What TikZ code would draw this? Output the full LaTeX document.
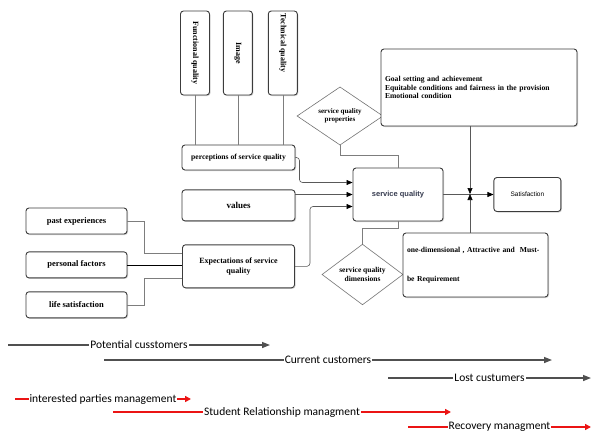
\documentclass[tikz,border=0pt]{standalone}
\usepackage{fontspec}
\setmainfont{Liberation Serif}
\newfontfamily\calfont{Carlito}
\newfontfamily\arialfont{Liberation Sans}
\usepackage{tikz}
\usetikzlibrary{
  shapes.geometric,
  arrows.meta,
  positioning,
  shadows
}
\definecolor{boxedge}{RGB}{60,60,60}
\definecolor{linkgray}{RGB}{125,125,125}
\definecolor{phasegray}{RGB}{80,80,80}
\definecolor{phasered}{RGB}{235,20,20}
\definecolor{sqtext}{RGB}{55,60,80}
\tikzset{
  basebox/.style={rectangle,rounded corners=3pt,draw=boxedge,line width=0.9pt,fill=white,align=center,inner sep=2pt,
    font=\fontsize{8}{9}\selectfont\bfseries,
    drop shadow={shadow xshift=1pt,shadow yshift=-1pt,fill=black!30,opacity=0.6}},
  vertnode/.style={basebox,minimum width=29pt,minimum height=84pt,font=\fontsize{8}{9.5}\selectfont\bfseries},
  factnode/.style={basebox,minimum width=101pt,minimum height=26pt,font=\fontsize{8.5}{10}\selectfont\bfseries},
  midnode/.style={basebox,minimum width=113pt},
  textbox/.style={basebox,align=left,inner sep=4pt,font=\fontsize{7.6}{8.6}\selectfont\bfseries},
  qualdia/.style={diamond,draw=black!55,fill=white,line width=0.6pt,inner sep=0pt,align=center,
    font=\fontsize{7}{8.5}\selectfont\bfseries},
  link/.style={draw=linkgray,line width=0.6pt},
  arr/.style={draw=black!65,line width=0.6pt,-{Triangle[color=black,length=6pt,width=5pt]}},
  grayphase/.style={draw=phasegray,line width=1.4pt,-{Triangle[length=8pt,width=6pt]}},
  redphase/.style={draw=phasered,line width=1.6pt,-{Triangle[length=6pt,width=6pt]}},
  phaselbl/.style={fill=white,inner sep=1pt,text=black,font=\calfont\fontsize{11.5}{13}\selectfont}
}

\begin{document}
\begin{tikzpicture}[x=1pt,y=-1pt]
  \useasboundingbox (0,0) rectangle (592,434);

  \node[vertnode] (func) at (195,53) {\rotatebox{-90}{Functional quality}};
  \node[vertnode,right=13pt of func] (image) {\rotatebox{-90}{Image}};
  \node[vertnode,right=15pt of image] (tech) {\rotatebox{-90}{Technical quality\hspace{20pt}}};

  \node[midnode,minimum height=25pt,font=\fontsize{7.6}{9}\selectfont\bfseries] (percep) at (238.5,157.5) {perceptions of service quality};
  \node[midnode,minimum height=31pt,below=19pt of percep,font=\fontsize{9}{10}\selectfont\bfseries] (values) {values};
  \node[midnode,minimum width=112pt,minimum height=43pt,below=23pt of values,font=\fontsize{8}{9.5}\selectfont\bfseries] (expect) {Expectations of service\\quality};

  \node[factnode] (past) at (76.5,221) {past experiences};
  \node[factnode,below=17pt of past] (personal) {personal factors};
  \node[factnode,below=13pt of personal] (life) {life satisfaction};

  \node[basebox,minimum width=90pt,minimum height=53pt,text=sqtext,font=\arialfont\fontsize{7.5}{9}\selectfont\bfseries] (sq) at (398,194.5) {service quality};
  \node[qualdia,minimum width=86pt,minimum height=54pt] (props) at (340,116) {service quality\\properties};
  \node[qualdia,minimum width=81pt,minimum height=45pt,font=\fontsize{7.5}{9}\selectfont\bfseries] (dims) at (362.5,274.5) {service quality\\dimensions};

  \node[textbox,minimum width=196pt,minimum height=77pt,text width=188pt] (goals) at (479,87.5)
      {Goal setting and achievement\\Equitable conditions and fairness in the provision\\Emotional condition};
  \node[basebox,minimum width=67pt,minimum height=34pt,right=50pt of sq,font=\arialfont\fontsize{6.5}{8}\selectfont] (satis) {Satisfaction};
  \node[textbox,minimum width=145pt,minimum height=64pt,text width=137pt] (reqs) at (475.5,265)
      {one-dimensional , Attractive and~ Must-\\[21pt]be Requirement};

  \coordinate (jn) at (470,194);

  \draw[link] (func.south) -- (func.south |- percep.north);
  \draw[link] (image.south) -- (image.south |- percep.north);
  \draw[link] (tech.south) -- (tech.south |- percep.north);
  \draw[arr,rounded corners=3pt] (percep.east) -- ++(4,0) |- ([yshift=12pt]sq.west);
  \draw[arr] (values.east |- sq.west) -- (sq.west);
  \draw[arr,rounded corners=3pt] (expect.east) -- ++(15,0) |- ([yshift=-12pt]sq.west);
  \draw[link] (props.south) -- ++(0,10) -| (sq.north);
  \draw[link] (sq.south) -- ++(0,7) -| (dims.north);
  \draw[arr] (sq.east) -- (satis.west);
  \draw[arr] (goals.south -| jn) -- (jn);
  \draw[arr] (reqs.north -| jn) -- (jn);

  \draw[link] (past.east) -- ++(17,0) |- ([yshift=13pt]expect.west);
  \draw[black,line width=0.7pt] (personal.east) -- (personal.east -| expect.west);
  \draw[link] (life.east) -- ++(17,0) |- ([yshift=-12pt]expect.west);

  % customer phases
  \coordinate (potS) at (8,345);    \coordinate (potE) at (270,345);
  \coordinate (curS) at (104,360);  \coordinate (curE) at (552,360);
  \coordinate (lostS) at (388,378); \coordinate (lostE) at (591,378);
  \coordinate (intS) at (15,399);   \coordinate (intE) at (191,399);
  \coordinate (stuS) at (113,412);  \coordinate (stuE) at (451,412);
  \coordinate (recS) at (408,427);  \coordinate (recE) at (591,427);

  \draw[grayphase] (potS) -- node[phaselbl]{Potential cusstomers} (potE);
  \draw[grayphase] (curS) -- node[phaselbl]{Current customers} (curE);
  \draw[grayphase] (lostS) -- node[phaselbl]{Lost custumers} (lostE);
  \draw[redphase] (intS) -- node[phaselbl]{interested parties management} (intE);
  \draw[redphase] (stuS) -- node[phaselbl]{Student Relationship managment} (stuE);
  \draw[redphase] (recS) -- node[phaselbl]{Recovery managment} (recE);
\end{tikzpicture}
\end{document}
